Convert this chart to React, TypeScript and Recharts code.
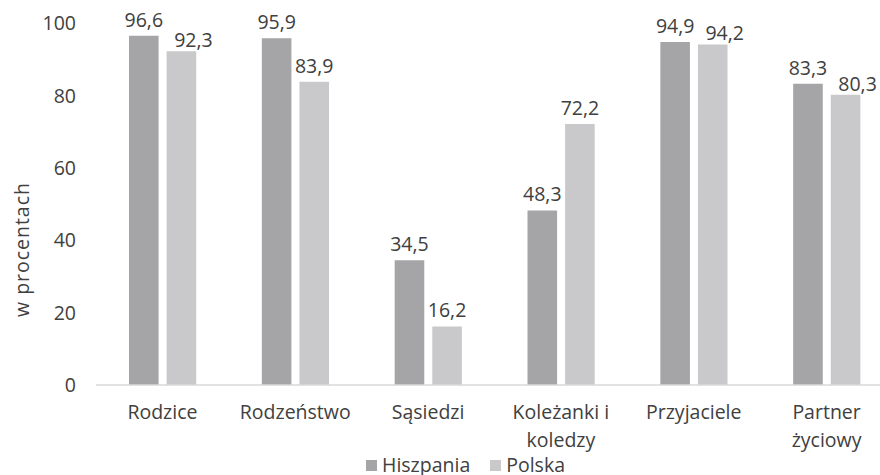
import { BarChart, Bar, XAxis, YAxis, Legend, LabelList, Label } from 'recharts';

const categories = ['Rodzice', 'Rodzeństwo', 'Sąsiedzi', 'Koleżanki i\nkoledzy', 'Przyjaciele', 'Partner\nżyciowy'];
const hiszpania = [96.6, 95.9, 34.5, 48.3, 94.9, 83.3];
const polska = [92.3, 83.9, 16.2, 72.2, 94.2, 80.3];
const yTicks = [0, 20, 40, 60, 80, 100];

const data = categories.map((name, i) => ({ name, hiszpania: hiszpania[i], polska: polska[i] }));

const FONT = '"Open Sans", sans-serif';
const FS = 19.5;
const TEXT = '#404040';
const DARK = '#A5A5A7';
const LIGHT = '#C9C9CB';

const fmt = (v: any) => String(v).replace('.', ',');

// x labels may run over two lines
const CategoryTick = ({ x, y, payload }: any) => {
  const lines = String(payload.value).split('\n');
  return (
    <text x={x} y={y + 34} textAnchor="middle" fill={TEXT} fontSize={FS} fontFamily={FONT}>
      {lines.map((l, i) => (
        <tspan key={i} x={x} dy={i === 0 ? 0 : 28}>
          {l}
        </tspan>
      ))}
    </text>
  );
};

// value label; the Polska one steps aside when it would clash with its neighbour
const ValueLabel = ({ x, y, width, value, index, shiftable }: any) => {
  const clash = shiftable && Math.abs(hiszpania[index] - polska[index]) < 6;
  return (
    <text
      x={x + width / 2 + (clash ? 12 : 0)}
      y={y - (clash ? 4 : 9)}
      textAnchor="middle"
      fill={TEXT}
      fontSize={FS}
      fontFamily={FONT}
    >
      {fmt(value)}
    </text>
  );
};

const LegendBox = () => (
  <div style={{ display: 'flex', alignItems: 'center', fontFamily: FONT, fontSize: FS, color: TEXT, lineHeight: '22px' }}>
    <span style={{ width: 11, height: 11, background: DARK, display: 'inline-block', marginRight: 5 }} />
    <span style={{ marginRight: 20 }}>Hiszpania</span>
    <span style={{ width: 11, height: 11, background: LIGHT, display: 'inline-block', marginRight: 5 }} />
    <span>Polska</span>
  </div>
);

export default function App() {
  return (
    <div style={{ position: 'absolute', left: 0, top: 0, width: 880, height: 475, overflow: 'hidden', background: '#fff' }}>
      <BarChart
        width={893}
        height={480}
        data={data}
        margin={{ top: 23.5, right: 0, left: 0, bottom: 0 }}
        barSize={29.6}
        barGap={8}
      >
        <XAxis
          dataKey="name"
          height={95}
          tickLine={false}
          tickSize={0}
          tickMargin={0}
          axisLine={{ stroke: '#D9D9D9', strokeWidth: 1.3 }}
          tick={<CategoryTick />}
          interval={0}
        />
        <YAxis
          width={96}
          domain={[0, 100]}
          ticks={yTicks}
          axisLine={false}
          tickLine={false}
          tickSize={0}
          tickMargin={20}
          tick={{ fill: TEXT, fontSize: FS, fontFamily: FONT }}
        >
          <Label
            content={() => (
              <text
                x={21}
                y={250}
                transform="rotate(-90 21 250)"
                textAnchor="middle"
                dominantBaseline="central"
                fill={TEXT}
                fontSize={FS}
                fontFamily={FONT}
                textLength={134}
                lengthAdjust="spacing"
              >
                w procentach
              </text>
            )}
          />
        </YAxis>
        <Legend
          verticalAlign="middle"
          align="center"
          content={<LegendBox />}
          wrapperStyle={{ top: 454, left: 366, width: 300, height: 24 }}
        />
        <Bar dataKey="hiszpania" name="Hiszpania" fill={DARK} isAnimationActive={false}>
          <LabelList dataKey="hiszpania" content={<ValueLabel />} />
        </Bar>
        <Bar dataKey="polska" name="Polska" fill={LIGHT} isAnimationActive={false}>
          <LabelList dataKey="polska" content={<ValueLabel shiftable />} />
        </Bar>
      </BarChart>
    </div>
  );
}
